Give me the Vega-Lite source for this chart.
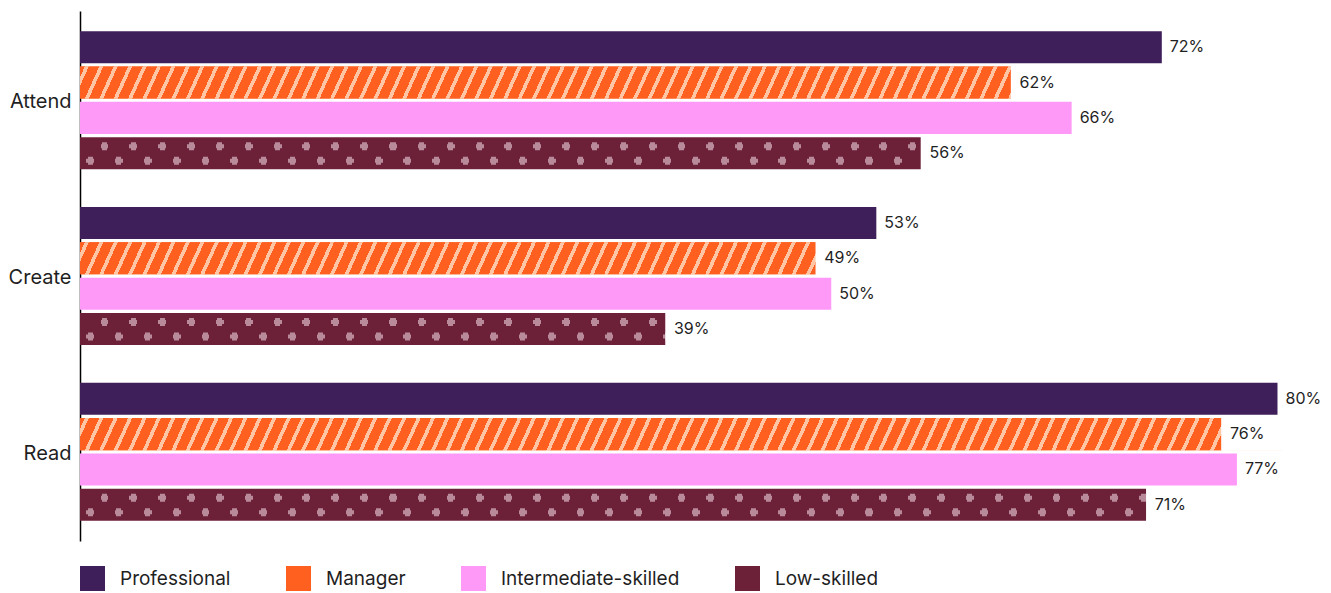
{
  "$schema": "https://vega.github.io/schema/vega-lite/v6.json",
  "width": 1202,
  "height": 530,
  "autosize": {"type": "none"},
  "padding": {"left": 80, "top": 11, "right": 49, "bottom": 52},
  "background": "#ffffff",
  "config": {
    "view": {"stroke": null},
    "font": "Inter",
    "axisY": {"ticks": false, "labelFontSize": 20, "labelPadding": 9, "labelOffset": 2, "domainColor": "#000000", "domainWidth": 1.5, "labelColor": "#1f1f1f", "labelFont": "Inter", "grid": false, "title": null},
    "legend": {"title": null, "orient": "bottom", "direction": "horizontal", "symbolType": "square", "symbolSize": 625, "symbolStrokeWidth": 0, "symbolOpacity": 1, "labelFontSize": 19, "labelFont": "Inter", "labelColor": "#1f1f1f", "labelOffset": 15, "columnPadding": 55, "offset": 25, "padding": 0, "labelLimit": 400}
  },
  "data": {
    "values": [
      {"activity": "Attend", "group": "Professional", "value": 0.72},
      {"activity": "Attend", "group": "Manager", "value": 0.62},
      {"activity": "Attend", "group": "Intermediate-skilled", "value": 0.66},
      {"activity": "Attend", "group": "Low-skilled", "value": 0.56},
      {"activity": "Create", "group": "Professional", "value": 0.53},
      {"activity": "Create", "group": "Manager", "value": 0.49},
      {"activity": "Create", "group": "Intermediate-skilled", "value": 0.5},
      {"activity": "Create", "group": "Low-skilled", "value": 0.39},
      {"activity": "Read", "group": "Professional", "value": 0.797},
      {"activity": "Read", "group": "Manager", "value": 0.76},
      {"activity": "Read", "group": "Intermediate-skilled", "value": 0.77},
      {"activity": "Read", "group": "Low-skilled", "value": 0.71}
    ]
  },
  "layer": [
    {
      "mark": {"type": "bar"},
      "encoding": {
        "y": {"field": "activity", "type": "nominal", "sort": ["Attend", "Create", "Read"], "title": null, "scale": {"paddingInner": 0.215, "paddingOuter": 0.115}},
        "yOffset": {"field": "group", "type": "nominal", "sort": ["Professional", "Manager", "Intermediate-skilled", "Low-skilled"], "scale": {"domain": ["Professional", "Manager", "Intermediate-skilled", "Low-skilled"], "paddingInner": 0.094, "paddingOuter": 0}},
        "x": {"field": "value", "type": "quantitative", "scale": {"domain": [0, 0.8], "nice": false, "zero": true}, "axis": null},
        "color": {
          "field": "group", "type": "nominal", "sort": ["Professional", "Manager", "Intermediate-skilled", "Low-skilled"],
          "scale": {
            "domain": ["Professional", "Manager", "Intermediate-skilled", "Low-skilled"],
            "range": ["#3f1f59", "#ff5f1f", "#ff99f7", "#6c2139"]
          }
        }
      }
    },
    {
      "transform": [{"filter": "datum.group === 'Manager'"}],
      "mark": {"type": "bar", "fill": {"gradient": "linear", "x1": 0, "y1": 0, "x2": 1, "y2": 0.012, "stops": [
        {"offset": 0, "color": "#ff5f1f"},
        {"offset": 0.004, "color": "#ff5f1f"}, {"offset": 0.004, "color": "#ffc6a5"}, {"offset": 0.0073, "color": "#ffc6a5"}, {"offset": 0.0073, "color": "#ff5f1f"},
        {"offset": 0.016, "color": "#ff5f1f"}, {"offset": 0.016, "color": "#ffc6a5"}, {"offset": 0.0193, "color": "#ffc6a5"}, {"offset": 0.0193, "color": "#ff5f1f"},
        {"offset": 0.028, "color": "#ff5f1f"}, {"offset": 0.028, "color": "#ffc6a5"}, {"offset": 0.0313, "color": "#ffc6a5"}, {"offset": 0.0313, "color": "#ff5f1f"},
        {"offset": 0.04, "color": "#ff5f1f"}, {"offset": 0.04, "color": "#ffc6a5"}, {"offset": 0.0433, "color": "#ffc6a5"}, {"offset": 0.0433, "color": "#ff5f1f"},
        {"offset": 0.052, "color": "#ff5f1f"}, {"offset": 0.052, "color": "#ffc6a5"}, {"offset": 0.0553, "color": "#ffc6a5"}, {"offset": 0.0553, "color": "#ff5f1f"},
        {"offset": 0.064, "color": "#ff5f1f"}, {"offset": 0.064, "color": "#ffc6a5"}, {"offset": 0.0673, "color": "#ffc6a5"}, {"offset": 0.0673, "color": "#ff5f1f"},
        {"offset": 0.076, "color": "#ff5f1f"}, {"offset": 0.076, "color": "#ffc6a5"}, {"offset": 0.0793, "color": "#ffc6a5"}, {"offset": 0.0793, "color": "#ff5f1f"},
        {"offset": 0.088, "color": "#ff5f1f"}, {"offset": 0.088, "color": "#ffc6a5"}, {"offset": 0.0913, "color": "#ffc6a5"}, {"offset": 0.0913, "color": "#ff5f1f"},
        {"offset": 0.1, "color": "#ff5f1f"}, {"offset": 0.1, "color": "#ffc6a5"}, {"offset": 0.1033, "color": "#ffc6a5"}, {"offset": 0.1033, "color": "#ff5f1f"},
        {"offset": 0.112, "color": "#ff5f1f"}, {"offset": 0.112, "color": "#ffc6a5"}, {"offset": 0.1153, "color": "#ffc6a5"}, {"offset": 0.1153, "color": "#ff5f1f"},
        {"offset": 0.124, "color": "#ff5f1f"}, {"offset": 0.124, "color": "#ffc6a5"}, {"offset": 0.1273, "color": "#ffc6a5"}, {"offset": 0.1273, "color": "#ff5f1f"},
        {"offset": 0.136, "color": "#ff5f1f"}, {"offset": 0.136, "color": "#ffc6a5"}, {"offset": 0.1393, "color": "#ffc6a5"}, {"offset": 0.1393, "color": "#ff5f1f"},
        {"offset": 0.148, "color": "#ff5f1f"}, {"offset": 0.148, "color": "#ffc6a5"}, {"offset": 0.1513, "color": "#ffc6a5"}, {"offset": 0.1513, "color": "#ff5f1f"},
        {"offset": 0.16, "color": "#ff5f1f"}, {"offset": 0.16, "color": "#ffc6a5"}, {"offset": 0.1633, "color": "#ffc6a5"}, {"offset": 0.1633, "color": "#ff5f1f"},
        {"offset": 0.172, "color": "#ff5f1f"}, {"offset": 0.172, "color": "#ffc6a5"}, {"offset": 0.1753, "color": "#ffc6a5"}, {"offset": 0.1753, "color": "#ff5f1f"},
        {"offset": 0.184, "color": "#ff5f1f"}, {"offset": 0.184, "color": "#ffc6a5"}, {"offset": 0.1873, "color": "#ffc6a5"}, {"offset": 0.1873, "color": "#ff5f1f"},
        {"offset": 0.196, "color": "#ff5f1f"}, {"offset": 0.196, "color": "#ffc6a5"}, {"offset": 0.1993, "color": "#ffc6a5"}, {"offset": 0.1993, "color": "#ff5f1f"},
        {"offset": 0.208, "color": "#ff5f1f"}, {"offset": 0.208, "color": "#ffc6a5"}, {"offset": 0.2113, "color": "#ffc6a5"}, {"offset": 0.2113, "color": "#ff5f1f"},
        {"offset": 0.22, "color": "#ff5f1f"}, {"offset": 0.22, "color": "#ffc6a5"}, {"offset": 0.2233, "color": "#ffc6a5"}, {"offset": 0.2233, "color": "#ff5f1f"},
        {"offset": 0.232, "color": "#ff5f1f"}, {"offset": 0.232, "color": "#ffc6a5"}, {"offset": 0.2353, "color": "#ffc6a5"}, {"offset": 0.2353, "color": "#ff5f1f"},
        {"offset": 0.244, "color": "#ff5f1f"}, {"offset": 0.244, "color": "#ffc6a5"}, {"offset": 0.2473, "color": "#ffc6a5"}, {"offset": 0.2473, "color": "#ff5f1f"},
        {"offset": 0.256, "color": "#ff5f1f"}, {"offset": 0.256, "color": "#ffc6a5"}, {"offset": 0.2593, "color": "#ffc6a5"}, {"offset": 0.2593, "color": "#ff5f1f"},
        {"offset": 0.268, "color": "#ff5f1f"}, {"offset": 0.268, "color": "#ffc6a5"}, {"offset": 0.2713, "color": "#ffc6a5"}, {"offset": 0.2713, "color": "#ff5f1f"},
        {"offset": 0.28, "color": "#ff5f1f"}, {"offset": 0.28, "color": "#ffc6a5"}, {"offset": 0.2833, "color": "#ffc6a5"}, {"offset": 0.2833, "color": "#ff5f1f"},
        {"offset": 0.292, "color": "#ff5f1f"}, {"offset": 0.292, "color": "#ffc6a5"}, {"offset": 0.2953, "color": "#ffc6a5"}, {"offset": 0.2953, "color": "#ff5f1f"},
        {"offset": 0.304, "color": "#ff5f1f"}, {"offset": 0.304, "color": "#ffc6a5"}, {"offset": 0.3073, "color": "#ffc6a5"}, {"offset": 0.3073, "color": "#ff5f1f"},
        {"offset": 0.316, "color": "#ff5f1f"}, {"offset": 0.316, "color": "#ffc6a5"}, {"offset": 0.3193, "color": "#ffc6a5"}, {"offset": 0.3193, "color": "#ff5f1f"},
        {"offset": 0.328, "color": "#ff5f1f"}, {"offset": 0.328, "color": "#ffc6a5"}, {"offset": 0.3313, "color": "#ffc6a5"}, {"offset": 0.3313, "color": "#ff5f1f"},
        {"offset": 0.34, "color": "#ff5f1f"}, {"offset": 0.34, "color": "#ffc6a5"}, {"offset": 0.3433, "color": "#ffc6a5"}, {"offset": 0.3433, "color": "#ff5f1f"},
        {"offset": 0.352, "color": "#ff5f1f"}, {"offset": 0.352, "color": "#ffc6a5"}, {"offset": 0.3553, "color": "#ffc6a5"}, {"offset": 0.3553, "color": "#ff5f1f"},
        {"offset": 0.364, "color": "#ff5f1f"}, {"offset": 0.364, "color": "#ffc6a5"}, {"offset": 0.3673, "color": "#ffc6a5"}, {"offset": 0.3673, "color": "#ff5f1f"},
        {"offset": 0.376, "color": "#ff5f1f"}, {"offset": 0.376, "color": "#ffc6a5"}, {"offset": 0.3793, "color": "#ffc6a5"}, {"offset": 0.3793, "color": "#ff5f1f"},
        {"offset": 0.388, "color": "#ff5f1f"}, {"offset": 0.388, "color": "#ffc6a5"}, {"offset": 0.3913, "color": "#ffc6a5"}, {"offset": 0.3913, "color": "#ff5f1f"},
        {"offset": 0.4, "color": "#ff5f1f"}, {"offset": 0.4, "color": "#ffc6a5"}, {"offset": 0.4033, "color": "#ffc6a5"}, {"offset": 0.4033, "color": "#ff5f1f"},
        {"offset": 0.412, "color": "#ff5f1f"}, {"offset": 0.412, "color": "#ffc6a5"}, {"offset": 0.4153, "color": "#ffc6a5"}, {"offset": 0.4153, "color": "#ff5f1f"},
        {"offset": 0.424, "color": "#ff5f1f"}, {"offset": 0.424, "color": "#ffc6a5"}, {"offset": 0.4273, "color": "#ffc6a5"}, {"offset": 0.4273, "color": "#ff5f1f"},
        {"offset": 0.436, "color": "#ff5f1f"}, {"offset": 0.436, "color": "#ffc6a5"}, {"offset": 0.4393, "color": "#ffc6a5"}, {"offset": 0.4393, "color": "#ff5f1f"},
        {"offset": 0.448, "color": "#ff5f1f"}, {"offset": 0.448, "color": "#ffc6a5"}, {"offset": 0.4513, "color": "#ffc6a5"}, {"offset": 0.4513, "color": "#ff5f1f"},
        {"offset": 0.46, "color": "#ff5f1f"}, {"offset": 0.46, "color": "#ffc6a5"}, {"offset": 0.4633, "color": "#ffc6a5"}, {"offset": 0.4633, "color": "#ff5f1f"},
        {"offset": 0.472, "color": "#ff5f1f"}, {"offset": 0.472, "color": "#ffc6a5"}, {"offset": 0.4753, "color": "#ffc6a5"}, {"offset": 0.4753, "color": "#ff5f1f"},
        {"offset": 0.484, "color": "#ff5f1f"}, {"offset": 0.484, "color": "#ffc6a5"}, {"offset": 0.4873, "color": "#ffc6a5"}, {"offset": 0.4873, "color": "#ff5f1f"},
        {"offset": 0.496, "color": "#ff5f1f"}, {"offset": 0.496, "color": "#ffc6a5"}, {"offset": 0.4993, "color": "#ffc6a5"}, {"offset": 0.4993, "color": "#ff5f1f"},
        {"offset": 0.508, "color": "#ff5f1f"}, {"offset": 0.508, "color": "#ffc6a5"}, {"offset": 0.5113, "color": "#ffc6a5"}, {"offset": 0.5113, "color": "#ff5f1f"},
        {"offset": 0.52, "color": "#ff5f1f"}, {"offset": 0.52, "color": "#ffc6a5"}, {"offset": 0.5233, "color": "#ffc6a5"}, {"offset": 0.5233, "color": "#ff5f1f"},
        {"offset": 0.532, "color": "#ff5f1f"}, {"offset": 0.532, "color": "#ffc6a5"}, {"offset": 0.5353, "color": "#ffc6a5"}, {"offset": 0.5353, "color": "#ff5f1f"},
        {"offset": 0.544, "color": "#ff5f1f"}, {"offset": 0.544, "color": "#ffc6a5"}, {"offset": 0.5473, "color": "#ffc6a5"}, {"offset": 0.5473, "color": "#ff5f1f"},
        {"offset": 0.556, "color": "#ff5f1f"}, {"offset": 0.556, "color": "#ffc6a5"}, {"offset": 0.5593, "color": "#ffc6a5"}, {"offset": 0.5593, "color": "#ff5f1f"},
        {"offset": 0.568, "color": "#ff5f1f"}, {"offset": 0.568, "color": "#ffc6a5"}, {"offset": 0.5713, "color": "#ffc6a5"}, {"offset": 0.5713, "color": "#ff5f1f"},
        {"offset": 0.58, "color": "#ff5f1f"}, {"offset": 0.58, "color": "#ffc6a5"}, {"offset": 0.5833, "color": "#ffc6a5"}, {"offset": 0.5833, "color": "#ff5f1f"},
        {"offset": 0.592, "color": "#ff5f1f"}, {"offset": 0.592, "color": "#ffc6a5"}, {"offset": 0.5953, "color": "#ffc6a5"}, {"offset": 0.5953, "color": "#ff5f1f"},
        {"offset": 0.604, "color": "#ff5f1f"}, {"offset": 0.604, "color": "#ffc6a5"}, {"offset": 0.6073, "color": "#ffc6a5"}, {"offset": 0.6073, "color": "#ff5f1f"},
        {"offset": 0.616, "color": "#ff5f1f"}, {"offset": 0.616, "color": "#ffc6a5"}, {"offset": 0.6193, "color": "#ffc6a5"}, {"offset": 0.6193, "color": "#ff5f1f"},
        {"offset": 0.628, "color": "#ff5f1f"}, {"offset": 0.628, "color": "#ffc6a5"}, {"offset": 0.6313, "color": "#ffc6a5"}, {"offset": 0.6313, "color": "#ff5f1f"},
        {"offset": 0.64, "color": "#ff5f1f"}, {"offset": 0.64, "color": "#ffc6a5"}, {"offset": 0.6433, "color": "#ffc6a5"}, {"offset": 0.6433, "color": "#ff5f1f"},
        {"offset": 0.652, "color": "#ff5f1f"}, {"offset": 0.652, "color": "#ffc6a5"}, {"offset": 0.6553, "color": "#ffc6a5"}, {"offset": 0.6553, "color": "#ff5f1f"},
        {"offset": 0.664, "color": "#ff5f1f"}, {"offset": 0.664, "color": "#ffc6a5"}, {"offset": 0.6673, "color": "#ffc6a5"}, {"offset": 0.6673, "color": "#ff5f1f"},
        {"offset": 0.676, "color": "#ff5f1f"}, {"offset": 0.676, "color": "#ffc6a5"}, {"offset": 0.6793, "color": "#ffc6a5"}, {"offset": 0.6793, "color": "#ff5f1f"},
        {"offset": 0.688, "color": "#ff5f1f"}, {"offset": 0.688, "color": "#ffc6a5"}, {"offset": 0.6913, "color": "#ffc6a5"}, {"offset": 0.6913, "color": "#ff5f1f"},
        {"offset": 0.7, "color": "#ff5f1f"}, {"offset": 0.7, "color": "#ffc6a5"}, {"offset": 0.7033, "color": "#ffc6a5"}, {"offset": 0.7033, "color": "#ff5f1f"},
        {"offset": 0.712, "color": "#ff5f1f"}, {"offset": 0.712, "color": "#ffc6a5"}, {"offset": 0.7153, "color": "#ffc6a5"}, {"offset": 0.7153, "color": "#ff5f1f"},
        {"offset": 0.724, "color": "#ff5f1f"}, {"offset": 0.724, "color": "#ffc6a5"}, {"offset": 0.7273, "color": "#ffc6a5"}, {"offset": 0.7273, "color": "#ff5f1f"},
        {"offset": 0.736, "color": "#ff5f1f"}, {"offset": 0.736, "color": "#ffc6a5"}, {"offset": 0.7393, "color": "#ffc6a5"}, {"offset": 0.7393, "color": "#ff5f1f"},
        {"offset": 0.748, "color": "#ff5f1f"}, {"offset": 0.748, "color": "#ffc6a5"}, {"offset": 0.7513, "color": "#ffc6a5"}, {"offset": 0.7513, "color": "#ff5f1f"},
        {"offset": 0.76, "color": "#ff5f1f"}, {"offset": 0.76, "color": "#ffc6a5"}, {"offset": 0.7633, "color": "#ffc6a5"}, {"offset": 0.7633, "color": "#ff5f1f"},
        {"offset": 0.772, "color": "#ff5f1f"}, {"offset": 0.772, "color": "#ffc6a5"}, {"offset": 0.7753, "color": "#ffc6a5"}, {"offset": 0.7753, "color": "#ff5f1f"},
        {"offset": 0.784, "color": "#ff5f1f"}, {"offset": 0.784, "color": "#ffc6a5"}, {"offset": 0.7873, "color": "#ffc6a5"}, {"offset": 0.7873, "color": "#ff5f1f"},
        {"offset": 0.796, "color": "#ff5f1f"}, {"offset": 0.796, "color": "#ffc6a5"}, {"offset": 0.7993, "color": "#ffc6a5"}, {"offset": 0.7993, "color": "#ff5f1f"},
        {"offset": 0.808, "color": "#ff5f1f"}, {"offset": 0.808, "color": "#ffc6a5"}, {"offset": 0.8113, "color": "#ffc6a5"}, {"offset": 0.8113, "color": "#ff5f1f"},
        {"offset": 0.82, "color": "#ff5f1f"}, {"offset": 0.82, "color": "#ffc6a5"}, {"offset": 0.8233, "color": "#ffc6a5"}, {"offset": 0.8233, "color": "#ff5f1f"},
        {"offset": 0.832, "color": "#ff5f1f"}, {"offset": 0.832, "color": "#ffc6a5"}, {"offset": 0.8353, "color": "#ffc6a5"}, {"offset": 0.8353, "color": "#ff5f1f"},
        {"offset": 0.844, "color": "#ff5f1f"}, {"offset": 0.844, "color": "#ffc6a5"}, {"offset": 0.8473, "color": "#ffc6a5"}, {"offset": 0.8473, "color": "#ff5f1f"},
        {"offset": 0.856, "color": "#ff5f1f"}, {"offset": 0.856, "color": "#ffc6a5"}, {"offset": 0.8593, "color": "#ffc6a5"}, {"offset": 0.8593, "color": "#ff5f1f"},
        {"offset": 0.868, "color": "#ff5f1f"}, {"offset": 0.868, "color": "#ffc6a5"}, {"offset": 0.8713, "color": "#ffc6a5"}, {"offset": 0.8713, "color": "#ff5f1f"},
        {"offset": 0.88, "color": "#ff5f1f"}, {"offset": 0.88, "color": "#ffc6a5"}, {"offset": 0.8833, "color": "#ffc6a5"}, {"offset": 0.8833, "color": "#ff5f1f"},
        {"offset": 0.892, "color": "#ff5f1f"}, {"offset": 0.892, "color": "#ffc6a5"}, {"offset": 0.8953, "color": "#ffc6a5"}, {"offset": 0.8953, "color": "#ff5f1f"},
        {"offset": 0.904, "color": "#ff5f1f"}, {"offset": 0.904, "color": "#ffc6a5"}, {"offset": 0.9073, "color": "#ffc6a5"}, {"offset": 0.9073, "color": "#ff5f1f"},
        {"offset": 0.916, "color": "#ff5f1f"}, {"offset": 0.916, "color": "#ffc6a5"}, {"offset": 0.9193, "color": "#ffc6a5"}, {"offset": 0.9193, "color": "#ff5f1f"},
        {"offset": 0.928, "color": "#ff5f1f"}, {"offset": 0.928, "color": "#ffc6a5"}, {"offset": 0.9313, "color": "#ffc6a5"}, {"offset": 0.9313, "color": "#ff5f1f"},
        {"offset": 0.94, "color": "#ff5f1f"}, {"offset": 0.94, "color": "#ffc6a5"}, {"offset": 0.9433, "color": "#ffc6a5"}, {"offset": 0.9433, "color": "#ff5f1f"},
        {"offset": 0.952, "color": "#ff5f1f"}, {"offset": 0.952, "color": "#ffc6a5"}, {"offset": 0.9553, "color": "#ffc6a5"}, {"offset": 0.9553, "color": "#ff5f1f"},
        {"offset": 0.964, "color": "#ff5f1f"}, {"offset": 0.964, "color": "#ffc6a5"}, {"offset": 0.9673, "color": "#ffc6a5"}, {"offset": 0.9673, "color": "#ff5f1f"},
        {"offset": 1, "color": "#ff5f1f"}
      ]}},
      "encoding": {
        "y": {"field": "activity", "type": "nominal", "sort": ["Attend", "Create", "Read"]},
        "yOffset": {"field": "group", "type": "nominal", "sort": ["Professional", "Manager", "Intermediate-skilled", "Low-skilled"], "scale": {"domain": ["Professional", "Manager", "Intermediate-skilled", "Low-skilled"]}},
        "x": {"datum": 0, "type": "quantitative"},
        "x2": {"datum": 0.8}
      }
    },
    {
      "transform": [{"filter": "datum.group === 'Low-skilled'"}],
      "mark": {"type": "bar", "fill": {"gradient": "linear", "x1": 0, "y1": 0, "x2": 1, "y2": 0, "stops": [
        {"offset": 0, "color": "#6c2139"},
        {"offset": 0.0183, "color": "#6c2139"}, {"offset": 0.0183, "color": "#b98a9a"}, {"offset": 0.0225, "color": "#b98a9a"}, {"offset": 0.0225, "color": "#6c2139"},
        {"offset": 0.0423, "color": "#6c2139"}, {"offset": 0.0423, "color": "#b98a9a"}, {"offset": 0.0465, "color": "#b98a9a"}, {"offset": 0.0465, "color": "#6c2139"},
        {"offset": 0.0663, "color": "#6c2139"}, {"offset": 0.0663, "color": "#b98a9a"}, {"offset": 0.0705, "color": "#b98a9a"}, {"offset": 0.0705, "color": "#6c2139"},
        {"offset": 0.0903, "color": "#6c2139"}, {"offset": 0.0903, "color": "#b98a9a"}, {"offset": 0.0945, "color": "#b98a9a"}, {"offset": 0.0945, "color": "#6c2139"},
        {"offset": 0.1143, "color": "#6c2139"}, {"offset": 0.1143, "color": "#b98a9a"}, {"offset": 0.1185, "color": "#b98a9a"}, {"offset": 0.1185, "color": "#6c2139"},
        {"offset": 0.1383, "color": "#6c2139"}, {"offset": 0.1383, "color": "#b98a9a"}, {"offset": 0.1425, "color": "#b98a9a"}, {"offset": 0.1425, "color": "#6c2139"},
        {"offset": 0.1623, "color": "#6c2139"}, {"offset": 0.1623, "color": "#b98a9a"}, {"offset": 0.1665, "color": "#b98a9a"}, {"offset": 0.1665, "color": "#6c2139"},
        {"offset": 0.1863, "color": "#6c2139"}, {"offset": 0.1863, "color": "#b98a9a"}, {"offset": 0.1905, "color": "#b98a9a"}, {"offset": 0.1905, "color": "#6c2139"},
        {"offset": 0.2103, "color": "#6c2139"}, {"offset": 0.2103, "color": "#b98a9a"}, {"offset": 0.2145, "color": "#b98a9a"}, {"offset": 0.2145, "color": "#6c2139"},
        {"offset": 0.2343, "color": "#6c2139"}, {"offset": 0.2343, "color": "#b98a9a"}, {"offset": 0.2385, "color": "#b98a9a"}, {"offset": 0.2385, "color": "#6c2139"},
        {"offset": 0.2583, "color": "#6c2139"}, {"offset": 0.2583, "color": "#b98a9a"}, {"offset": 0.2625, "color": "#b98a9a"}, {"offset": 0.2625, "color": "#6c2139"},
        {"offset": 0.2823, "color": "#6c2139"}, {"offset": 0.2823, "color": "#b98a9a"}, {"offset": 0.2865, "color": "#b98a9a"}, {"offset": 0.2865, "color": "#6c2139"},
        {"offset": 0.3063, "color": "#6c2139"}, {"offset": 0.3063, "color": "#b98a9a"}, {"offset": 0.3105, "color": "#b98a9a"}, {"offset": 0.3105, "color": "#6c2139"},
        {"offset": 0.3303, "color": "#6c2139"}, {"offset": 0.3303, "color": "#b98a9a"}, {"offset": 0.3345, "color": "#b98a9a"}, {"offset": 0.3345, "color": "#6c2139"},
        {"offset": 0.3543, "color": "#6c2139"}, {"offset": 0.3543, "color": "#b98a9a"}, {"offset": 0.3585, "color": "#b98a9a"}, {"offset": 0.3585, "color": "#6c2139"},
        {"offset": 0.3783, "color": "#6c2139"}, {"offset": 0.3783, "color": "#b98a9a"}, {"offset": 0.3825, "color": "#b98a9a"}, {"offset": 0.3825, "color": "#6c2139"},
        {"offset": 0.4023, "color": "#6c2139"}, {"offset": 0.4023, "color": "#b98a9a"}, {"offset": 0.4065, "color": "#b98a9a"}, {"offset": 0.4065, "color": "#6c2139"},
        {"offset": 0.4263, "color": "#6c2139"}, {"offset": 0.4263, "color": "#b98a9a"}, {"offset": 0.4305, "color": "#b98a9a"}, {"offset": 0.4305, "color": "#6c2139"},
        {"offset": 0.4503, "color": "#6c2139"}, {"offset": 0.4503, "color": "#b98a9a"}, {"offset": 0.4545, "color": "#b98a9a"}, {"offset": 0.4545, "color": "#6c2139"},
        {"offset": 0.4743, "color": "#6c2139"}, {"offset": 0.4743, "color": "#b98a9a"}, {"offset": 0.4785, "color": "#b98a9a"}, {"offset": 0.4785, "color": "#6c2139"},
        {"offset": 0.4983, "color": "#6c2139"}, {"offset": 0.4983, "color": "#b98a9a"}, {"offset": 0.5025, "color": "#b98a9a"}, {"offset": 0.5025, "color": "#6c2139"},
        {"offset": 0.5223, "color": "#6c2139"}, {"offset": 0.5223, "color": "#b98a9a"}, {"offset": 0.5265, "color": "#b98a9a"}, {"offset": 0.5265, "color": "#6c2139"},
        {"offset": 0.5463, "color": "#6c2139"}, {"offset": 0.5463, "color": "#b98a9a"}, {"offset": 0.5505, "color": "#b98a9a"}, {"offset": 0.5505, "color": "#6c2139"},
        {"offset": 0.5703, "color": "#6c2139"}, {"offset": 0.5703, "color": "#b98a9a"}, {"offset": 0.5745, "color": "#b98a9a"}, {"offset": 0.5745, "color": "#6c2139"},
        {"offset": 0.5943, "color": "#6c2139"}, {"offset": 0.5943, "color": "#b98a9a"}, {"offset": 0.5985, "color": "#b98a9a"}, {"offset": 0.5985, "color": "#6c2139"},
        {"offset": 0.6183, "color": "#6c2139"}, {"offset": 0.6183, "color": "#b98a9a"}, {"offset": 0.6225, "color": "#b98a9a"}, {"offset": 0.6225, "color": "#6c2139"},
        {"offset": 0.6423, "color": "#6c2139"}, {"offset": 0.6423, "color": "#b98a9a"}, {"offset": 0.6465, "color": "#b98a9a"}, {"offset": 0.6465, "color": "#6c2139"},
        {"offset": 0.6663, "color": "#6c2139"}, {"offset": 0.6663, "color": "#b98a9a"}, {"offset": 0.6705, "color": "#b98a9a"}, {"offset": 0.6705, "color": "#6c2139"},
        {"offset": 0.6903, "color": "#6c2139"}, {"offset": 0.6903, "color": "#b98a9a"}, {"offset": 0.6945, "color": "#b98a9a"}, {"offset": 0.6945, "color": "#6c2139"},
        {"offset": 0.7143, "color": "#6c2139"}, {"offset": 0.7143, "color": "#b98a9a"}, {"offset": 0.7185, "color": "#b98a9a"}, {"offset": 0.7185, "color": "#6c2139"},
        {"offset": 0.7383, "color": "#6c2139"}, {"offset": 0.7383, "color": "#b98a9a"}, {"offset": 0.7425, "color": "#b98a9a"}, {"offset": 0.7425, "color": "#6c2139"},
        {"offset": 0.7623, "color": "#6c2139"}, {"offset": 0.7623, "color": "#b98a9a"}, {"offset": 0.7665, "color": "#b98a9a"}, {"offset": 0.7665, "color": "#6c2139"},
        {"offset": 0.7863, "color": "#6c2139"}, {"offset": 0.7863, "color": "#b98a9a"}, {"offset": 0.7905, "color": "#b98a9a"}, {"offset": 0.7905, "color": "#6c2139"},
        {"offset": 0.8103, "color": "#6c2139"}, {"offset": 0.8103, "color": "#b98a9a"}, {"offset": 0.8145, "color": "#b98a9a"}, {"offset": 0.8145, "color": "#6c2139"},
        {"offset": 0.8343, "color": "#6c2139"}, {"offset": 0.8343, "color": "#b98a9a"}, {"offset": 0.8385, "color": "#b98a9a"}, {"offset": 0.8385, "color": "#6c2139"},
        {"offset": 0.8583, "color": "#6c2139"}, {"offset": 0.8583, "color": "#b98a9a"}, {"offset": 0.8625, "color": "#b98a9a"}, {"offset": 0.8625, "color": "#6c2139"},
        {"offset": 0.8823, "color": "#6c2139"}, {"offset": 0.8823, "color": "#b98a9a"}, {"offset": 0.8865, "color": "#b98a9a"}, {"offset": 0.8865, "color": "#6c2139"},
        {"offset": 1, "color": "#6c2139"}
      ]}},
      "encoding": {
        "y": {"field": "activity", "type": "nominal", "sort": ["Attend", "Create", "Read"], "bandPosition": 0.8043},
        "y2": {"field": "activity", "bandPosition": 0.8623},
        "x": {"datum": 0, "type": "quantitative"},
        "x2": {"datum": 0.8}
      }
    },
    {
      "transform": [{"filter": "datum.group === 'Low-skilled'"}],
      "mark": {"type": "bar", "fill": {"gradient": "linear", "x1": 0, "y1": 0, "x2": 1, "y2": 0, "stops": [
        {"offset": 0, "color": "#6c2139"},
        {"offset": 0.0171, "color": "#6c2139"}, {"offset": 0.0171, "color": "#b98a9a"}, {"offset": 0.0237, "color": "#b98a9a"}, {"offset": 0.0237, "color": "#6c2139"},
        {"offset": 0.0411, "color": "#6c2139"}, {"offset": 0.0411, "color": "#b98a9a"}, {"offset": 0.0477, "color": "#b98a9a"}, {"offset": 0.0477, "color": "#6c2139"},
        {"offset": 0.0651, "color": "#6c2139"}, {"offset": 0.0651, "color": "#b98a9a"}, {"offset": 0.0717, "color": "#b98a9a"}, {"offset": 0.0717, "color": "#6c2139"},
        {"offset": 0.0891, "color": "#6c2139"}, {"offset": 0.0891, "color": "#b98a9a"}, {"offset": 0.0957, "color": "#b98a9a"}, {"offset": 0.0957, "color": "#6c2139"},
        {"offset": 0.1131, "color": "#6c2139"}, {"offset": 0.1131, "color": "#b98a9a"}, {"offset": 0.1197, "color": "#b98a9a"}, {"offset": 0.1197, "color": "#6c2139"},
        {"offset": 0.1371, "color": "#6c2139"}, {"offset": 0.1371, "color": "#b98a9a"}, {"offset": 0.1437, "color": "#b98a9a"}, {"offset": 0.1437, "color": "#6c2139"},
        {"offset": 0.1611, "color": "#6c2139"}, {"offset": 0.1611, "color": "#b98a9a"}, {"offset": 0.1677, "color": "#b98a9a"}, {"offset": 0.1677, "color": "#6c2139"},
        {"offset": 0.1851, "color": "#6c2139"}, {"offset": 0.1851, "color": "#b98a9a"}, {"offset": 0.1917, "color": "#b98a9a"}, {"offset": 0.1917, "color": "#6c2139"},
        {"offset": 0.2091, "color": "#6c2139"}, {"offset": 0.2091, "color": "#b98a9a"}, {"offset": 0.2157, "color": "#b98a9a"}, {"offset": 0.2157, "color": "#6c2139"},
        {"offset": 0.2331, "color": "#6c2139"}, {"offset": 0.2331, "color": "#b98a9a"}, {"offset": 0.2397, "color": "#b98a9a"}, {"offset": 0.2397, "color": "#6c2139"},
        {"offset": 0.2571, "color": "#6c2139"}, {"offset": 0.2571, "color": "#b98a9a"}, {"offset": 0.2637, "color": "#b98a9a"}, {"offset": 0.2637, "color": "#6c2139"},
        {"offset": 0.2811, "color": "#6c2139"}, {"offset": 0.2811, "color": "#b98a9a"}, {"offset": 0.2877, "color": "#b98a9a"}, {"offset": 0.2877, "color": "#6c2139"},
        {"offset": 0.3051, "color": "#6c2139"}, {"offset": 0.3051, "color": "#b98a9a"}, {"offset": 0.3117, "color": "#b98a9a"}, {"offset": 0.3117, "color": "#6c2139"},
        {"offset": 0.3291, "color": "#6c2139"}, {"offset": 0.3291, "color": "#b98a9a"}, {"offset": 0.3357, "color": "#b98a9a"}, {"offset": 0.3357, "color": "#6c2139"},
        {"offset": 0.3531, "color": "#6c2139"}, {"offset": 0.3531, "color": "#b98a9a"}, {"offset": 0.3597, "color": "#b98a9a"}, {"offset": 0.3597, "color": "#6c2139"},
        {"offset": 0.3771, "color": "#6c2139"}, {"offset": 0.3771, "color": "#b98a9a"}, {"offset": 0.3837, "color": "#b98a9a"}, {"offset": 0.3837, "color": "#6c2139"},
        {"offset": 0.4011, "color": "#6c2139"}, {"offset": 0.4011, "color": "#b98a9a"}, {"offset": 0.4077, "color": "#b98a9a"}, {"offset": 0.4077, "color": "#6c2139"},
        {"offset": 0.4251, "color": "#6c2139"}, {"offset": 0.4251, "color": "#b98a9a"}, {"offset": 0.4317, "color": "#b98a9a"}, {"offset": 0.4317, "color": "#6c2139"},
        {"offset": 0.4491, "color": "#6c2139"}, {"offset": 0.4491, "color": "#b98a9a"}, {"offset": 0.4557, "color": "#b98a9a"}, {"offset": 0.4557, "color": "#6c2139"},
        {"offset": 0.4731, "color": "#6c2139"}, {"offset": 0.4731, "color": "#b98a9a"}, {"offset": 0.4797, "color": "#b98a9a"}, {"offset": 0.4797, "color": "#6c2139"},
        {"offset": 0.4971, "color": "#6c2139"}, {"offset": 0.4971, "color": "#b98a9a"}, {"offset": 0.5037, "color": "#b98a9a"}, {"offset": 0.5037, "color": "#6c2139"},
        {"offset": 0.5211, "color": "#6c2139"}, {"offset": 0.5211, "color": "#b98a9a"}, {"offset": 0.5277, "color": "#b98a9a"}, {"offset": 0.5277, "color": "#6c2139"},
        {"offset": 0.5451, "color": "#6c2139"}, {"offset": 0.5451, "color": "#b98a9a"}, {"offset": 0.5517, "color": "#b98a9a"}, {"offset": 0.5517, "color": "#6c2139"},
        {"offset": 0.5691, "color": "#6c2139"}, {"offset": 0.5691, "color": "#b98a9a"}, {"offset": 0.5757, "color": "#b98a9a"}, {"offset": 0.5757, "color": "#6c2139"},
        {"offset": 0.5931, "color": "#6c2139"}, {"offset": 0.5931, "color": "#b98a9a"}, {"offset": 0.5997, "color": "#b98a9a"}, {"offset": 0.5997, "color": "#6c2139"},
        {"offset": 0.6171, "color": "#6c2139"}, {"offset": 0.6171, "color": "#b98a9a"}, {"offset": 0.6237, "color": "#b98a9a"}, {"offset": 0.6237, "color": "#6c2139"},
        {"offset": 0.6411, "color": "#6c2139"}, {"offset": 0.6411, "color": "#b98a9a"}, {"offset": 0.6477, "color": "#b98a9a"}, {"offset": 0.6477, "color": "#6c2139"},
        {"offset": 0.6651, "color": "#6c2139"}, {"offset": 0.6651, "color": "#b98a9a"}, {"offset": 0.6717, "color": "#b98a9a"}, {"offset": 0.6717, "color": "#6c2139"},
        {"offset": 0.6891, "color": "#6c2139"}, {"offset": 0.6891, "color": "#b98a9a"}, {"offset": 0.6957, "color": "#b98a9a"}, {"offset": 0.6957, "color": "#6c2139"},
        {"offset": 0.7131, "color": "#6c2139"}, {"offset": 0.7131, "color": "#b98a9a"}, {"offset": 0.7197, "color": "#b98a9a"}, {"offset": 0.7197, "color": "#6c2139"},
        {"offset": 0.7371, "color": "#6c2139"}, {"offset": 0.7371, "color": "#b98a9a"}, {"offset": 0.7437, "color": "#b98a9a"}, {"offset": 0.7437, "color": "#6c2139"},
        {"offset": 0.7611, "color": "#6c2139"}, {"offset": 0.7611, "color": "#b98a9a"}, {"offset": 0.7677, "color": "#b98a9a"}, {"offset": 0.7677, "color": "#6c2139"},
        {"offset": 0.7851, "color": "#6c2139"}, {"offset": 0.7851, "color": "#b98a9a"}, {"offset": 0.7917, "color": "#b98a9a"}, {"offset": 0.7917, "color": "#6c2139"},
        {"offset": 0.8091, "color": "#6c2139"}, {"offset": 0.8091, "color": "#b98a9a"}, {"offset": 0.8157, "color": "#b98a9a"}, {"offset": 0.8157, "color": "#6c2139"},
        {"offset": 0.8331, "color": "#6c2139"}, {"offset": 0.8331, "color": "#b98a9a"}, {"offset": 0.8397, "color": "#b98a9a"}, {"offset": 0.8397, "color": "#6c2139"},
        {"offset": 0.8571, "color": "#6c2139"}, {"offset": 0.8571, "color": "#b98a9a"}, {"offset": 0.8637, "color": "#b98a9a"}, {"offset": 0.8637, "color": "#6c2139"},
        {"offset": 0.8811, "color": "#6c2139"}, {"offset": 0.8811, "color": "#b98a9a"}, {"offset": 0.8877, "color": "#b98a9a"}, {"offset": 0.8877, "color": "#6c2139"},
        {"offset": 1, "color": "#6c2139"}
      ]}},
      "encoding": {
        "y": {"field": "activity", "type": "nominal", "sort": ["Attend", "Create", "Read"], "bandPosition": 0.8188},
        "y2": {"field": "activity", "bandPosition": 0.8478},
        "x": {"datum": 0, "type": "quantitative"},
        "x2": {"datum": 0.8}
      }
    },
    {
      "transform": [{"filter": "datum.group === 'Low-skilled'"}],
      "mark": {"type": "bar", "fill": {"gradient": "linear", "x1": 0, "y1": 0, "x2": 1, "y2": 0, "stops": [
        {"offset": 0, "color": "#6c2139"},
        {"offset": 0.0063, "color": "#6c2139"}, {"offset": 0.0063, "color": "#b98a9a"}, {"offset": 0.0105, "color": "#b98a9a"}, {"offset": 0.0105, "color": "#6c2139"},
        {"offset": 0.0303, "color": "#6c2139"}, {"offset": 0.0303, "color": "#b98a9a"}, {"offset": 0.0345, "color": "#b98a9a"}, {"offset": 0.0345, "color": "#6c2139"},
        {"offset": 0.0543, "color": "#6c2139"}, {"offset": 0.0543, "color": "#b98a9a"}, {"offset": 0.0585, "color": "#b98a9a"}, {"offset": 0.0585, "color": "#6c2139"},
        {"offset": 0.0783, "color": "#6c2139"}, {"offset": 0.0783, "color": "#b98a9a"}, {"offset": 0.0825, "color": "#b98a9a"}, {"offset": 0.0825, "color": "#6c2139"},
        {"offset": 0.1023, "color": "#6c2139"}, {"offset": 0.1023, "color": "#b98a9a"}, {"offset": 0.1065, "color": "#b98a9a"}, {"offset": 0.1065, "color": "#6c2139"},
        {"offset": 0.1263, "color": "#6c2139"}, {"offset": 0.1263, "color": "#b98a9a"}, {"offset": 0.1305, "color": "#b98a9a"}, {"offset": 0.1305, "color": "#6c2139"},
        {"offset": 0.1503, "color": "#6c2139"}, {"offset": 0.1503, "color": "#b98a9a"}, {"offset": 0.1545, "color": "#b98a9a"}, {"offset": 0.1545, "color": "#6c2139"},
        {"offset": 0.1743, "color": "#6c2139"}, {"offset": 0.1743, "color": "#b98a9a"}, {"offset": 0.1785, "color": "#b98a9a"}, {"offset": 0.1785, "color": "#6c2139"},
        {"offset": 0.1983, "color": "#6c2139"}, {"offset": 0.1983, "color": "#b98a9a"}, {"offset": 0.2025, "color": "#b98a9a"}, {"offset": 0.2025, "color": "#6c2139"},
        {"offset": 0.2223, "color": "#6c2139"}, {"offset": 0.2223, "color": "#b98a9a"}, {"offset": 0.2265, "color": "#b98a9a"}, {"offset": 0.2265, "color": "#6c2139"},
        {"offset": 0.2463, "color": "#6c2139"}, {"offset": 0.2463, "color": "#b98a9a"}, {"offset": 0.2505, "color": "#b98a9a"}, {"offset": 0.2505, "color": "#6c2139"},
        {"offset": 0.2703, "color": "#6c2139"}, {"offset": 0.2703, "color": "#b98a9a"}, {"offset": 0.2745, "color": "#b98a9a"}, {"offset": 0.2745, "color": "#6c2139"},
        {"offset": 0.2943, "color": "#6c2139"}, {"offset": 0.2943, "color": "#b98a9a"}, {"offset": 0.2985, "color": "#b98a9a"}, {"offset": 0.2985, "color": "#6c2139"},
        {"offset": 0.3183, "color": "#6c2139"}, {"offset": 0.3183, "color": "#b98a9a"}, {"offset": 0.3225, "color": "#b98a9a"}, {"offset": 0.3225, "color": "#6c2139"},
        {"offset": 0.3423, "color": "#6c2139"}, {"offset": 0.3423, "color": "#b98a9a"}, {"offset": 0.3465, "color": "#b98a9a"}, {"offset": 0.3465, "color": "#6c2139"},
        {"offset": 0.3663, "color": "#6c2139"}, {"offset": 0.3663, "color": "#b98a9a"}, {"offset": 0.3705, "color": "#b98a9a"}, {"offset": 0.3705, "color": "#6c2139"},
        {"offset": 0.3903, "color": "#6c2139"}, {"offset": 0.3903, "color": "#b98a9a"}, {"offset": 0.3945, "color": "#b98a9a"}, {"offset": 0.3945, "color": "#6c2139"},
        {"offset": 0.4143, "color": "#6c2139"}, {"offset": 0.4143, "color": "#b98a9a"}, {"offset": 0.4185, "color": "#b98a9a"}, {"offset": 0.4185, "color": "#6c2139"},
        {"offset": 0.4383, "color": "#6c2139"}, {"offset": 0.4383, "color": "#b98a9a"}, {"offset": 0.4425, "color": "#b98a9a"}, {"offset": 0.4425, "color": "#6c2139"},
        {"offset": 0.4623, "color": "#6c2139"}, {"offset": 0.4623, "color": "#b98a9a"}, {"offset": 0.4665, "color": "#b98a9a"}, {"offset": 0.4665, "color": "#6c2139"},
        {"offset": 0.4863, "color": "#6c2139"}, {"offset": 0.4863, "color": "#b98a9a"}, {"offset": 0.4905, "color": "#b98a9a"}, {"offset": 0.4905, "color": "#6c2139"},
        {"offset": 0.5103, "color": "#6c2139"}, {"offset": 0.5103, "color": "#b98a9a"}, {"offset": 0.5145, "color": "#b98a9a"}, {"offset": 0.5145, "color": "#6c2139"},
        {"offset": 0.5343, "color": "#6c2139"}, {"offset": 0.5343, "color": "#b98a9a"}, {"offset": 0.5385, "color": "#b98a9a"}, {"offset": 0.5385, "color": "#6c2139"},
        {"offset": 0.5583, "color": "#6c2139"}, {"offset": 0.5583, "color": "#b98a9a"}, {"offset": 0.5625, "color": "#b98a9a"}, {"offset": 0.5625, "color": "#6c2139"},
        {"offset": 0.5823, "color": "#6c2139"}, {"offset": 0.5823, "color": "#b98a9a"}, {"offset": 0.5865, "color": "#b98a9a"}, {"offset": 0.5865, "color": "#6c2139"},
        {"offset": 0.6063, "color": "#6c2139"}, {"offset": 0.6063, "color": "#b98a9a"}, {"offset": 0.6105, "color": "#b98a9a"}, {"offset": 0.6105, "color": "#6c2139"},
        {"offset": 0.6303, "color": "#6c2139"}, {"offset": 0.6303, "color": "#b98a9a"}, {"offset": 0.6345, "color": "#b98a9a"}, {"offset": 0.6345, "color": "#6c2139"},
        {"offset": 0.6543, "color": "#6c2139"}, {"offset": 0.6543, "color": "#b98a9a"}, {"offset": 0.6585, "color": "#b98a9a"}, {"offset": 0.6585, "color": "#6c2139"},
        {"offset": 0.6783, "color": "#6c2139"}, {"offset": 0.6783, "color": "#b98a9a"}, {"offset": 0.6825, "color": "#b98a9a"}, {"offset": 0.6825, "color": "#6c2139"},
        {"offset": 0.7023, "color": "#6c2139"}, {"offset": 0.7023, "color": "#b98a9a"}, {"offset": 0.7065, "color": "#b98a9a"}, {"offset": 0.7065, "color": "#6c2139"},
        {"offset": 0.7263, "color": "#6c2139"}, {"offset": 0.7263, "color": "#b98a9a"}, {"offset": 0.7305, "color": "#b98a9a"}, {"offset": 0.7305, "color": "#6c2139"},
        {"offset": 0.7503, "color": "#6c2139"}, {"offset": 0.7503, "color": "#b98a9a"}, {"offset": 0.7545, "color": "#b98a9a"}, {"offset": 0.7545, "color": "#6c2139"},
        {"offset": 0.7743, "color": "#6c2139"}, {"offset": 0.7743, "color": "#b98a9a"}, {"offset": 0.7785, "color": "#b98a9a"}, {"offset": 0.7785, "color": "#6c2139"},
        {"offset": 0.7983, "color": "#6c2139"}, {"offset": 0.7983, "color": "#b98a9a"}, {"offset": 0.8025, "color": "#b98a9a"}, {"offset": 0.8025, "color": "#6c2139"},
        {"offset": 0.8223, "color": "#6c2139"}, {"offset": 0.8223, "color": "#b98a9a"}, {"offset": 0.8265, "color": "#b98a9a"}, {"offset": 0.8265, "color": "#6c2139"},
        {"offset": 0.8463, "color": "#6c2139"}, {"offset": 0.8463, "color": "#b98a9a"}, {"offset": 0.8505, "color": "#b98a9a"}, {"offset": 0.8505, "color": "#6c2139"},
        {"offset": 0.8703, "color": "#6c2139"}, {"offset": 0.8703, "color": "#b98a9a"}, {"offset": 0.8745, "color": "#b98a9a"}, {"offset": 0.8745, "color": "#6c2139"},
        {"offset": 1, "color": "#6c2139"}
      ]}},
      "encoding": {
        "y": {"field": "activity", "type": "nominal", "sort": ["Attend", "Create", "Read"], "bandPosition": 0.9094},
        "y2": {"field": "activity", "bandPosition": 0.9674},
        "x": {"datum": 0, "type": "quantitative"},
        "x2": {"datum": 0.8}
      }
    },
    {
      "transform": [{"filter": "datum.group === 'Low-skilled'"}],
      "mark": {"type": "bar", "fill": {"gradient": "linear", "x1": 0, "y1": 0, "x2": 1, "y2": 0, "stops": [
        {"offset": 0, "color": "#6c2139"},
        {"offset": 0.0051, "color": "#6c2139"}, {"offset": 0.0051, "color": "#b98a9a"}, {"offset": 0.0117, "color": "#b98a9a"}, {"offset": 0.0117, "color": "#6c2139"},
        {"offset": 0.0291, "color": "#6c2139"}, {"offset": 0.0291, "color": "#b98a9a"}, {"offset": 0.0357, "color": "#b98a9a"}, {"offset": 0.0357, "color": "#6c2139"},
        {"offset": 0.0531, "color": "#6c2139"}, {"offset": 0.0531, "color": "#b98a9a"}, {"offset": 0.0597, "color": "#b98a9a"}, {"offset": 0.0597, "color": "#6c2139"},
        {"offset": 0.0771, "color": "#6c2139"}, {"offset": 0.0771, "color": "#b98a9a"}, {"offset": 0.0837, "color": "#b98a9a"}, {"offset": 0.0837, "color": "#6c2139"},
        {"offset": 0.1011, "color": "#6c2139"}, {"offset": 0.1011, "color": "#b98a9a"}, {"offset": 0.1077, "color": "#b98a9a"}, {"offset": 0.1077, "color": "#6c2139"},
        {"offset": 0.1251, "color": "#6c2139"}, {"offset": 0.1251, "color": "#b98a9a"}, {"offset": 0.1317, "color": "#b98a9a"}, {"offset": 0.1317, "color": "#6c2139"},
        {"offset": 0.1491, "color": "#6c2139"}, {"offset": 0.1491, "color": "#b98a9a"}, {"offset": 0.1557, "color": "#b98a9a"}, {"offset": 0.1557, "color": "#6c2139"},
        {"offset": 0.1731, "color": "#6c2139"}, {"offset": 0.1731, "color": "#b98a9a"}, {"offset": 0.1797, "color": "#b98a9a"}, {"offset": 0.1797, "color": "#6c2139"},
        {"offset": 0.1971, "color": "#6c2139"}, {"offset": 0.1971, "color": "#b98a9a"}, {"offset": 0.2037, "color": "#b98a9a"}, {"offset": 0.2037, "color": "#6c2139"},
        {"offset": 0.2211, "color": "#6c2139"}, {"offset": 0.2211, "color": "#b98a9a"}, {"offset": 0.2277, "color": "#b98a9a"}, {"offset": 0.2277, "color": "#6c2139"},
        {"offset": 0.2451, "color": "#6c2139"}, {"offset": 0.2451, "color": "#b98a9a"}, {"offset": 0.2517, "color": "#b98a9a"}, {"offset": 0.2517, "color": "#6c2139"},
        {"offset": 0.2691, "color": "#6c2139"}, {"offset": 0.2691, "color": "#b98a9a"}, {"offset": 0.2757, "color": "#b98a9a"}, {"offset": 0.2757, "color": "#6c2139"},
        {"offset": 0.2931, "color": "#6c2139"}, {"offset": 0.2931, "color": "#b98a9a"}, {"offset": 0.2997, "color": "#b98a9a"}, {"offset": 0.2997, "color": "#6c2139"},
        {"offset": 0.3171, "color": "#6c2139"}, {"offset": 0.3171, "color": "#b98a9a"}, {"offset": 0.3237, "color": "#b98a9a"}, {"offset": 0.3237, "color": "#6c2139"},
        {"offset": 0.3411, "color": "#6c2139"}, {"offset": 0.3411, "color": "#b98a9a"}, {"offset": 0.3477, "color": "#b98a9a"}, {"offset": 0.3477, "color": "#6c2139"},
        {"offset": 0.3651, "color": "#6c2139"}, {"offset": 0.3651, "color": "#b98a9a"}, {"offset": 0.3717, "color": "#b98a9a"}, {"offset": 0.3717, "color": "#6c2139"},
        {"offset": 0.3891, "color": "#6c2139"}, {"offset": 0.3891, "color": "#b98a9a"}, {"offset": 0.3957, "color": "#b98a9a"}, {"offset": 0.3957, "color": "#6c2139"},
        {"offset": 0.4131, "color": "#6c2139"}, {"offset": 0.4131, "color": "#b98a9a"}, {"offset": 0.4197, "color": "#b98a9a"}, {"offset": 0.4197, "color": "#6c2139"},
        {"offset": 0.4371, "color": "#6c2139"}, {"offset": 0.4371, "color": "#b98a9a"}, {"offset": 0.4437, "color": "#b98a9a"}, {"offset": 0.4437, "color": "#6c2139"},
        {"offset": 0.4611, "color": "#6c2139"}, {"offset": 0.4611, "color": "#b98a9a"}, {"offset": 0.4677, "color": "#b98a9a"}, {"offset": 0.4677, "color": "#6c2139"},
        {"offset": 0.4851, "color": "#6c2139"}, {"offset": 0.4851, "color": "#b98a9a"}, {"offset": 0.4917, "color": "#b98a9a"}, {"offset": 0.4917, "color": "#6c2139"},
        {"offset": 0.5091, "color": "#6c2139"}, {"offset": 0.5091, "color": "#b98a9a"}, {"offset": 0.5157, "color": "#b98a9a"}, {"offset": 0.5157, "color": "#6c2139"},
        {"offset": 0.5331, "color": "#6c2139"}, {"offset": 0.5331, "color": "#b98a9a"}, {"offset": 0.5397, "color": "#b98a9a"}, {"offset": 0.5397, "color": "#6c2139"},
        {"offset": 0.5571, "color": "#6c2139"}, {"offset": 0.5571, "color": "#b98a9a"}, {"offset": 0.5637, "color": "#b98a9a"}, {"offset": 0.5637, "color": "#6c2139"},
        {"offset": 0.5811, "color": "#6c2139"}, {"offset": 0.5811, "color": "#b98a9a"}, {"offset": 0.5877, "color": "#b98a9a"}, {"offset": 0.5877, "color": "#6c2139"},
        {"offset": 0.6051, "color": "#6c2139"}, {"offset": 0.6051, "color": "#b98a9a"}, {"offset": 0.6117, "color": "#b98a9a"}, {"offset": 0.6117, "color": "#6c2139"},
        {"offset": 0.6291, "color": "#6c2139"}, {"offset": 0.6291, "color": "#b98a9a"}, {"offset": 0.6357, "color": "#b98a9a"}, {"offset": 0.6357, "color": "#6c2139"},
        {"offset": 0.6531, "color": "#6c2139"}, {"offset": 0.6531, "color": "#b98a9a"}, {"offset": 0.6597, "color": "#b98a9a"}, {"offset": 0.6597, "color": "#6c2139"},
        {"offset": 0.6771, "color": "#6c2139"}, {"offset": 0.6771, "color": "#b98a9a"}, {"offset": 0.6837, "color": "#b98a9a"}, {"offset": 0.6837, "color": "#6c2139"},
        {"offset": 0.7011, "color": "#6c2139"}, {"offset": 0.7011, "color": "#b98a9a"}, {"offset": 0.7077, "color": "#b98a9a"}, {"offset": 0.7077, "color": "#6c2139"},
        {"offset": 0.7251, "color": "#6c2139"}, {"offset": 0.7251, "color": "#b98a9a"}, {"offset": 0.7317, "color": "#b98a9a"}, {"offset": 0.7317, "color": "#6c2139"},
        {"offset": 0.7491, "color": "#6c2139"}, {"offset": 0.7491, "color": "#b98a9a"}, {"offset": 0.7557, "color": "#b98a9a"}, {"offset": 0.7557, "color": "#6c2139"},
        {"offset": 0.7731, "color": "#6c2139"}, {"offset": 0.7731, "color": "#b98a9a"}, {"offset": 0.7797, "color": "#b98a9a"}, {"offset": 0.7797, "color": "#6c2139"},
        {"offset": 0.7971, "color": "#6c2139"}, {"offset": 0.7971, "color": "#b98a9a"}, {"offset": 0.8037, "color": "#b98a9a"}, {"offset": 0.8037, "color": "#6c2139"},
        {"offset": 0.8211, "color": "#6c2139"}, {"offset": 0.8211, "color": "#b98a9a"}, {"offset": 0.8277, "color": "#b98a9a"}, {"offset": 0.8277, "color": "#6c2139"},
        {"offset": 0.8451, "color": "#6c2139"}, {"offset": 0.8451, "color": "#b98a9a"}, {"offset": 0.8517, "color": "#b98a9a"}, {"offset": 0.8517, "color": "#6c2139"},
        {"offset": 0.8691, "color": "#6c2139"}, {"offset": 0.8691, "color": "#b98a9a"}, {"offset": 0.8757, "color": "#b98a9a"}, {"offset": 0.8757, "color": "#6c2139"},
        {"offset": 1, "color": "#6c2139"}
      ]}},
      "encoding": {
        "y": {"field": "activity", "type": "nominal", "sort": ["Attend", "Create", "Read"], "bandPosition": 0.9239},
        "y2": {"field": "activity", "bandPosition": 0.9529},
        "x": {"datum": 0, "type": "quantitative"},
        "x2": {"datum": 0.8}
      }
    },
    {
      "transform": [{"filter": "datum.group === 'Manager' || datum.group === 'Low-skilled'"}],
      "mark": {"type": "bar", "fill": "#ffffff", "stroke": "#ffffff", "strokeWidth": 1.4},
      "encoding": {
        "y": {"field": "activity", "type": "nominal", "sort": ["Attend", "Create", "Read"]},
        "yOffset": {"field": "group", "type": "nominal", "sort": ["Professional", "Manager", "Intermediate-skilled", "Low-skilled"], "scale": {"domain": ["Professional", "Manager", "Intermediate-skilled", "Low-skilled"]}},
        "x": {"field": "value", "type": "quantitative"},
        "x2": {"datum": 0.81}
      }
    },
    {
      "mark": {"type": "text", "align": "left", "baseline": "middle", "dx": 8, "fontSize": 16, "font": "Inter", "color": "#1f1f1f"},
      "encoding": {
        "y": {"field": "activity", "type": "nominal", "sort": ["Attend", "Create", "Read"]},
        "yOffset": {"field": "group", "type": "nominal", "sort": ["Professional", "Manager", "Intermediate-skilled", "Low-skilled"], "scale": {"domain": ["Professional", "Manager", "Intermediate-skilled", "Low-skilled"]}},
        "x": {"field": "value", "type": "quantitative"},
        "text": {"field": "value", "type": "quantitative", "format": ".0%"}
      }
    }
  ]
}
